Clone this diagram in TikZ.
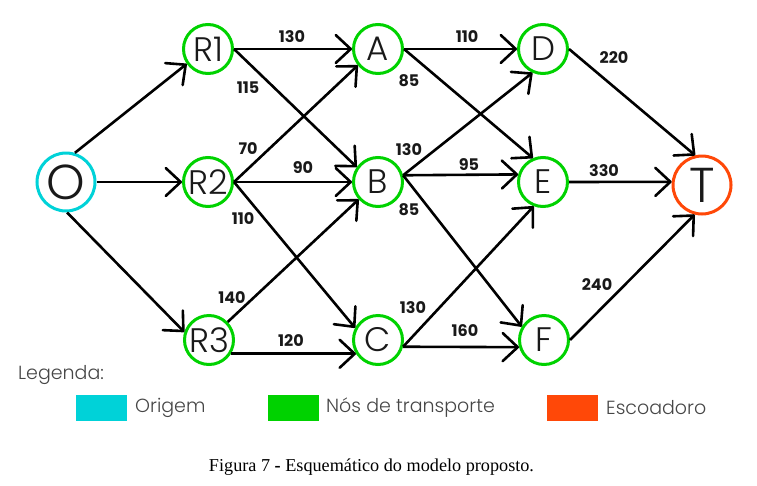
\documentclass[tikz,border=0pt]{standalone}
\usepackage{fontspec}
\setmainfont{Poppins}
\newfontfamily\lightfont{Poppins Light}
\newfontfamily\capfont{Liberation Serif}
\usetikzlibrary{arrows.meta}
\definecolor{cgreen}{RGB}{0,210,0}
\definecolor{ccyan}{RGB}{0,210,216}
\definecolor{corange}{RGB}{255,72,8}
\definecolor{legtext}{RGB}{70,70,70}
\begin{document}
\begin{tikzpicture}[x=1pt,y=-1pt,
  nd/.style={circle,draw=cgreen,line width=3pt,minimum size=49pt,inner sep=0pt,text=black!90,
    font=\lightfont\fontsize{34}{34}\selectfont},
  bignd/.style={nd,minimum size=58pt,font=\lightfont\fontsize{49}{49}\selectfont},
  edge/.style={line width=2.6pt,-{Straight Barb[length=15pt,width=28pt,round]}},
  lbl/.style={font=\bfseries\fontsize{16}{16}\selectfont,inner sep=0pt,text=black!90},
  legtxt/.style={anchor=west,inner sep=0pt,text=legtext,font=\lightfont\fontsize{19}{19}\selectfont},
  legbox/.style={minimum width=51pt,minimum height=26pt,inner sep=0pt}
]
\useasboundingbox (0,0) rectangle (757,485);
% nodes
\node[bignd,draw=ccyan] (O) at (66,182) {O};
\node[nd] (R1) at (208,49) {R1};
\node[nd] (R2) at (208,182) {R2};
\node[nd] (R3) at (209,340) {R3};
\node[nd] (A) at (378,49) {A};
\node[nd] (B) at (378,182) {B};
\node[nd] (C) at (378,340) {C};
\node[nd] (D) at (543,49) {D};
\node[nd] (E) at (543,182) {E};
\node[nd] (F) at (544,340) {F};
\node[bignd,draw=corange] (T) at (702,185) {T};
% edges
\draw[edge] (O.73) -- (R1.215);
\draw[edge] (O.east) -- (R2.west);
\draw[edge] (O.-88) -- (R3.162);
\draw[edge] (R1.east) -- (A.west);
\draw[edge] (R1.east) -- (B.145);
\draw[edge] (R2.east) -- (A.219);
\draw[edge] (R2.east) -- (B.west);
\draw[edge] (R2.east) -- (C.152);
\draw[edge] (R3.44) -- (B.222);
\draw[edge] (R3.-32) -- (C.212);
\draw[edge] (A.east) -- (D.west);
\draw[edge] (A.east) -- (E.113);
\draw[edge] (B.15) -- (D.246);
\draw[edge] (B.15) -- (E.163);
\draw[edge] (B.15) -- (F.149);
\draw[edge] (C.-15) -- (E.249);
\draw[edge] (C.-15) -- (F.196);
\draw[edge] (D.east) -- (T.103);
\draw[edge] (E.east) -- (T.174);
\draw[edge] (F.east) -- (T.256);
% labels
\node[lbl] (l1) at (292,37) {130};
\node[lbl] (l2) at (248,88) {115};
\node[lbl] (l3) at (248,149) {70};
\node[lbl] (l4) at (303,168) {90};
\node[lbl] (l5) at (243,219) {110};
\node[lbl] (l6) at (232,298) {140};
\node[lbl] (l7) at (291,341) {120};
\node[lbl] (l8) at (467,37) {110};
\node[lbl] (l9) at (409,81) {85};
\node[lbl] (l10) at (409,150) {130};
\node[lbl] (l11) at (469,165) {95};
\node[lbl] (l12) at (409,210) {85};
\node[lbl] (l13) at (413,308) {130};
\node[lbl] (l14) at (465,331) {160};
\node[lbl] (l15) at (614,58) {220};
\node[lbl] (l16) at (604,171) {330};
\node[lbl] (l17) at (597,285) {240};
% legend
\node[legtxt] (leg) at (18,375) {Legenda:};
\node[legbox,fill=ccyan] (k1) at (101.5,408) {};
\node[legtxt] (t1) at (135,408) {Origem};
\node[legbox,fill=cgreen] (k2) at (293,408) {};
\node[legtxt] (t2) at (326,408) {Nós de transporte};
\node[legbox,fill=corange] (k3) at (572.5,408) {};
\node[legtxt] (t3) at (606,408) {Escoadoro};
% caption
\node[anchor=base,inner sep=0pt,font=\capfont\fontsize{18.2}{18.2}\selectfont] (cap) at (371.5,471) {Figura 7 \textbf{-} Esquemático do modelo proposto.};
\end{tikzpicture}
\end{document}
